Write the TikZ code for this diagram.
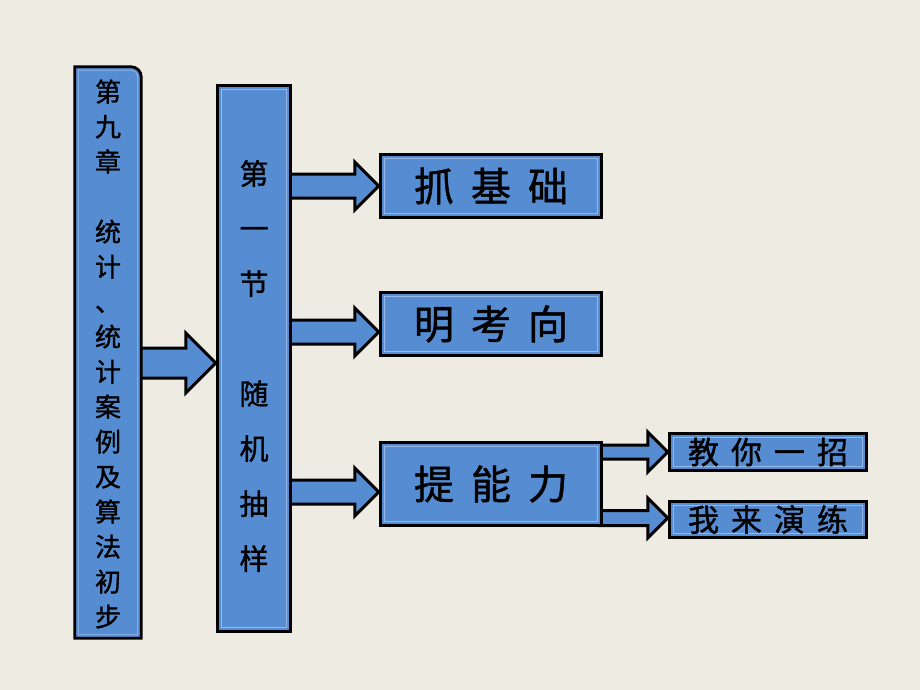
\documentclass[tikz,border=0pt]{standalone}
\usepackage{fontspec}
\setmainfont{Noto Sans CJK SC}
\newfontfamily\cjkm{Noto Sans CJK SC}[FakeBold=1.2]
\usetikzlibrary{calc}
\definecolor{bg}{RGB}{238,236,226}
\definecolor{boxblue}{RGB}{86,141,210}
\definecolor{hilite}{RGB}{150,185,232}
\tikzset{
  bluebox/.style={draw=black, line width=2.8pt, fill=boxblue, inner sep=0pt, text=black},
  plainbox/.style={inner sep=0pt, text=black},
  innerline/.style={draw=hilite, line width=0.8pt},
  fatarrowstyle/.style={draw=black, line width=3pt, fill=boxblue, line join=miter},
  cjk/.style={font=\cjkm\fontsize{#1}{#1}\selectfont},
}
% #1 from node, #2 to node, #3 centre y (px), #4 shaft half, #5 head half, #6 head length
\newcommand\fatarrow[6]{%
  \path[fatarrowstyle] let \p1=(#1.east), \p2=(#2.west) in
    (\x1-2pt,-#3pt+#4pt) -- (\x2-#6pt,-#3pt+#4pt) -- (\x2-#6pt,-#3pt+#5pt)
    -- (\x2-2pt,-#3pt) -- (\x2-#6pt,-#3pt-#5pt) -- (\x2-#6pt,-#3pt-#4pt)
    -- (\x1-2pt,-#3pt-#4pt) -- cycle;}
\newcommand\innerframe[1]{%
  \draw[innerline] ([shift={(3.5pt,-3.5pt)}]#1.north west) rectangle ([shift={(-3.5pt,3.5pt)}]#1.south east);}
\begin{document}
\begin{tikzpicture}[x=1pt,y=-1pt]
\useasboundingbox (0,0) rectangle (920,690);
\fill[bg] (0,0) rectangle (920,690);

% nodes (geometry)
\node[plainbox, minimum width=66pt, minimum height=571pt] (left) at (108,352.5) {};
\node[plainbox, minimum width=72pt, minimum height=545pt] (mid) at (254,358.5) {};
\node[plainbox, minimum width=220pt, minimum height=62pt] (b1) at (491,186) {};
\node[plainbox, minimum width=220pt, minimum height=62pt] (b2) at (491,324) {};
\node[plainbox, minimum width=220pt, minimum height=82pt] (b3) at (491,484) {};
\node[plainbox, minimum width=196pt, minimum height=36pt] (s1) at (768,452) {};
\node[plainbox, minimum width=196pt, minimum height=35pt] (s2) at (768,519.5) {};

% arrows
\fatarrow{left}{mid}{363}{15}{30}{32}
\fatarrow{mid}{b1}{186}{12}{24}{26}
\fatarrow{mid}{b2}{332}{12}{24}{26}
\fatarrow{mid}{b3}{492}{12}{24}{26}
\fatarrow{b3}{s1}{452}{7}{20}{22}
\fatarrow{b3}{s2}{518}{7.5}{20}{22}

% left box with rounded top-right corner
\path[bluebox] (left.south west) -- (left.north west) -- ([xshift=-10pt]left.north east)
  arc[start angle=90, end angle=0, radius=10pt] -- (left.south east) -- cycle;
\draw[innerline] ([shift={(3.5pt,-3.5pt)}]left.north west) -- ([shift={(-10pt,-3.5pt)}]left.north east)
  arc[start angle=90, end angle=0, radius=6.5pt] -- ([shift={(-3.5pt,3.5pt)}]left.south east)
  -- ([shift={(3.5pt,3.5pt)}]left.south west) -- cycle;

\foreach \n in {mid,b1,b2,b3,s1,s2}{
  \path[bluebox] (\n.south west) rectangle (\n.north east);
  \innerframe{\n}
}

% texts
\node[align=center, font=\cjkm\fontsize{26}{35}\selectfont] (lefttext) at (108,354)
  {第\\九\\章\\~\\统\\计\\、\\统\\计\\案\\例\\及\\算\\法\\初\\步};
\node[align=center, font=\cjkm\fontsize{29}{55}\selectfont] (midtext) at (254,366)
  {第\\一\\节\\~\\随\\机\\抽\\样};
\node[cjk=40] (t1) at (b1) {抓\hspace{17pt}基\hspace{17pt}础};
\node[cjk=40] (t2) at (b2) {明\hspace{17pt}考\hspace{17pt}向};
\node[cjk=40] (t3) at (b3) {提\hspace{17pt}能\hspace{17pt}力};
\node[cjk=31] (t4) at (s1) {教\hspace{12pt}你\hspace{12pt}一\hspace{12pt}招};
\node[cjk=31] (t5) at (s2) {我\hspace{12pt}来\hspace{12pt}演\hspace{12pt}练};
\end{tikzpicture}
\end{document}
